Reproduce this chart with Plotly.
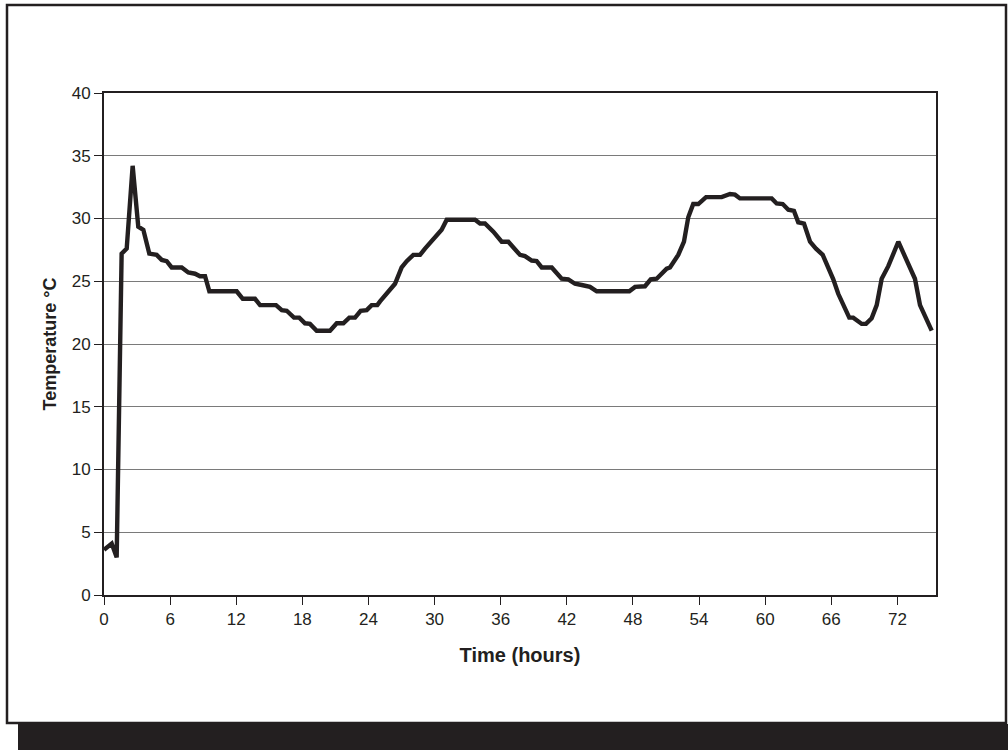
import plotly.graph_objects as go

# Data
hours = [0.0, 0.7, 1.15, 1.6, 2.06, 2.6, 3.11, 3.57, 4.11, 4.78, 5.24, 5.69, 6.14, 7.05,
         7.65, 8.26, 8.71, 9.17, 9.56, 12.04, 12.59, 13.70, 14.16, 15.61, 16.13, 16.58,
         17.24, 17.72, 18.24, 18.69, 19.30, 20.51, 21.12, 21.72, 22.26, 22.78, 23.29,
         23.84, 24.29, 24.80, 25.05, 26.41, 27.01, 27.47, 28.07, 28.68, 29.13, 29.88,
         30.64, 31.10, 33.67, 34.12, 34.57, 35.33, 36.09, 36.69, 37.75, 38.20, 38.81,
         39.26, 39.72, 40.63, 41.53, 42.13, 42.74, 43.35, 44.10, 44.71, 47.67, 48.19,
         49.09, 49.61, 50.15, 51.06, 51.36, 52.11, 52.63, 53.02, 53.47, 53.93, 54.63,
         56.05, 56.81, 57.26, 57.71, 60.59, 61.04, 61.59, 62.10, 62.61, 63.00, 63.52,
         64.07, 64.61, 65.22, 66.18, 66.63, 67.63, 67.99, 68.76, 69.15, 69.66, 70.12,
         70.57, 71.17, 72.08, 73.59, 74.05, 75.11]
temperature = [3.6, 4.1, 3.0, 27.2, 27.6, 34.2, 29.35, 29.1, 27.2, 27.1, 26.7, 26.6, 26.1, 26.1,
               25.7, 25.6, 25.4, 25.4, 24.2, 24.2, 23.6, 23.6, 23.1, 23.1, 22.7, 22.65,
               22.1, 22.1, 21.65, 21.6, 21.06, 21.06, 21.65, 21.65, 22.1, 22.1, 22.65,
               22.7, 23.1, 23.1, 23.4, 24.8, 26.1, 26.6, 27.1, 27.1, 27.6, 28.3,
               29.1, 29.9, 29.9, 29.6, 29.6, 28.95, 28.15, 28.15, 27.1, 27.0, 26.65,
               26.6, 26.1, 26.1, 25.2, 25.15, 24.8, 24.7, 24.55, 24.2, 24.2, 24.55,
               24.6, 25.15, 25.2, 26.0, 26.1, 27.1, 28.15, 30.1, 31.15, 31.15, 31.7,
               31.7, 31.95, 31.9, 31.6, 31.6, 31.2, 31.15, 30.7, 30.6, 29.7, 29.6,
               28.15, 27.6, 27.1, 25.15, 24.0, 22.1, 22.1, 21.6, 21.6, 22.05, 23.1,
               25.2, 26.2, 28.15, 25.2, 23.1, 21.06]
x_ticks = [0, 6, 12, 18, 24, 30, 36, 42, 48, 54, 60, 66, 72]
y_ticks = [0, 5, 10, 15, 20, 25, 30, 35, 40]

INK = "#231f20"
W, H = 1008, 750
L, R, T, B = 104, 936, 93, 595  # plot area in pixels


def px(xp):
    return (xp - L) / (R - L)


def py(yp):
    return (B - yp) / (B - T)


fig = go.Figure()
fig.add_trace(go.Scatter(x=hours, y=temperature, mode="lines",
                         line=dict(color=INK, width=4.4), showlegend=False,
                         hoverinfo="skip"))

font = dict(family="Liberation Sans, Arial, sans-serif", color=INK)

fig.update_layout(
    width=W, height=H,
    margin=dict(l=L, r=W - R, t=T, b=H - B),
    paper_bgcolor="white", plot_bgcolor="white",
    font=font,
    xaxis=dict(range=[0, 75.5], tickvals=x_ticks, ticktext=[str(v) for v in x_ticks],
               showgrid=False, zeroline=False, showline=True, linecolor=INK, linewidth=2,
               mirror=True, ticks="outside", ticklen=8, tickwidth=1, tickcolor=INK,
               tickfont=dict(size=17, color=INK),
               title=dict(text="<b>Time (hours)</b>", font=dict(size=20, color=INK),
                          standoff=20)),
    yaxis=dict(range=[0, 40], tickvals=y_ticks, ticktext=[str(v) for v in y_ticks],
               showgrid=True, gridcolor="#7a7a7a", gridwidth=1, zeroline=False,
               showline=True, linecolor=INK, linewidth=2, mirror=True,
               ticks="outside", ticklen=8, tickwidth=1, tickcolor=INK,
               tickfont=dict(size=17, color=INK),
               title=dict(text="<b>Temperature °C</b>", font=dict(size=18, color=INK),
                          standoff=10)),
    shapes=[
        dict(type="rect", xref="paper", yref="paper",
             x0=px(7), x1=px(1006), y0=py(723), y1=py(5),
             line=dict(color=INK, width=2.5), fillcolor="rgba(0,0,0,0)", layer="below"),
        dict(type="rect", xref="paper", yref="paper",
             x0=px(18), x1=px(1010), y0=py(752), y1=py(724),
             line=dict(width=0), fillcolor=INK, layer="below"),
    ],
)

fig.write_html("out.html", config={"displayModeBar": False},
               post_script="document.body.style.margin='0';document.body.style.overflow='hidden';")
